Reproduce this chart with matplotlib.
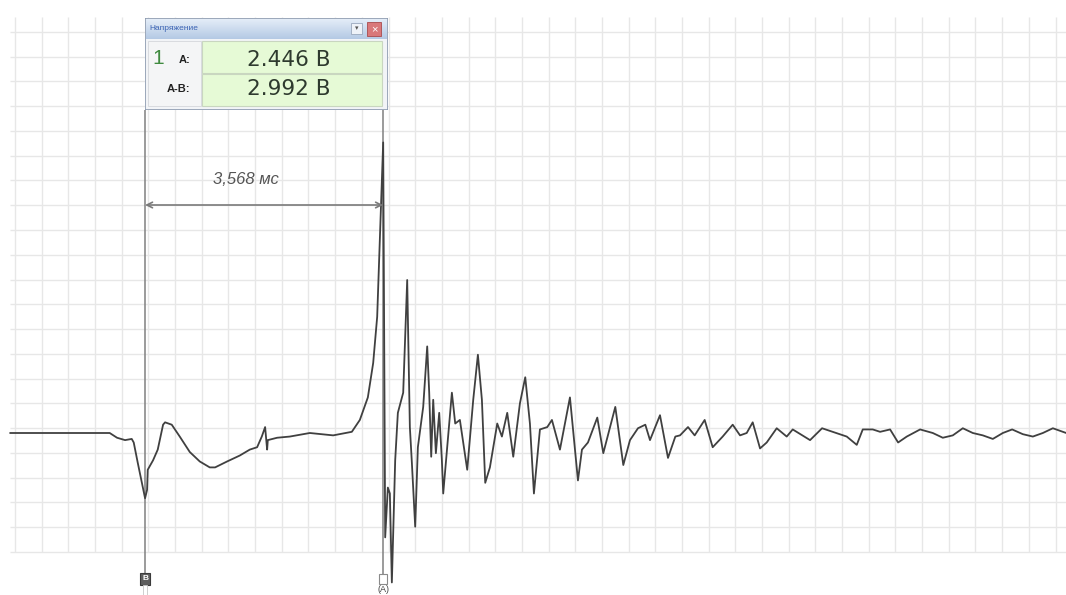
import numpy as np
import matplotlib
matplotlib.use("Agg")
import matplotlib.pyplot as plt
from matplotlib.patches import Rectangle
from matplotlib.colors import LinearSegmentedColormap

plt.rcParams['font.family'] = ['Liberation Sans', 'DejaVu Sans']

# Trace before the discharge (time in ms, voltage in V)
t_pre = [-0.07, 1.42, 1.53, 1.65, 1.75, 1.78, 1.84, 1.95, 1.98, 1.99, 2.07, 2.14,
         2.22, 2.25, 2.35, 2.47, 2.62, 2.77, 2.92, 3.00, 3.18, 3.37, 3.52, 3.63,
         3.70, 3.75, 3.78, 3.79, 3.93, 4.12, 4.42, 4.77, 5.05, 5.17, 5.29, 5.37,
         5.43, 5.46, 5.49, 5.52]
v_pre = [0.00, 0.00, -0.04, -0.06, -0.05, -0.08, -0.25, -0.55, -0.48, -0.31, -0.23, -0.14,
         0.07, 0.09, 0.07, -0.03, -0.16, -0.24, -0.29, -0.29, -0.24, -0.19, -0.14, -0.12,
         -0.03, 0.05, -0.14, -0.06, -0.04, -0.03, 0.00, -0.02, 0.01, 0.11, 0.30, 0.59,
         0.98, 1.46, 1.96, 2.45]

# Ringing after the discharge
t_ring = [5.55, 5.59, 5.62, 5.65, 5.70, 5.74, 5.82, 5.88, 5.92, 5.95, 6.00, 6.04,
          6.12, 6.18, 6.21, 6.24, 6.27, 6.31, 6.36, 6.40, 6.42, 6.48, 6.55, 6.60,
          6.67, 6.78, 6.87, 6.94, 7.00, 7.05, 7.12, 7.23, 7.30, 7.38, 7.47, 7.57,
          7.65, 7.72, 7.78, 7.87, 7.98, 8.05, 8.17, 8.32, 8.44, 8.50, 8.59, 8.73,
          8.82, 9.00, 9.12, 9.22, 9.34, 9.45, 9.52, 9.67, 9.79, 9.90, 9.97, 10.09,
          10.19, 10.34, 10.46, 10.61, 10.76, 10.87, 10.97, 11.06, 11.17, 11.27, 11.42, 11.57,
          11.66, 11.92, 12.10, 12.26, 12.47, 12.62, 12.71, 12.86, 12.97, 13.12, 13.24, 13.37,
          13.57, 13.76, 13.91, 14.06, 14.21, 14.36, 14.51, 14.66, 14.81, 14.95, 15.11, 15.26,
          15.41, 15.56, 15.76]
v_ring = [-0.88, -0.46, -0.51, -1.26, -0.23, 0.17, 0.34, 1.29, 0.05, -0.25, -0.79, -0.12,
          0.22, 0.73, 0.34, -0.20, 0.28, -0.17, 0.17, -0.23, -0.51, -0.12, 0.34, 0.08,
          0.11, -0.31, 0.28, 0.66, 0.28, -0.42, -0.29, 0.08, -0.03, 0.17, -0.20, 0.25,
          0.47, 0.08, -0.51, 0.03, 0.05, 0.11, -0.14, 0.30, -0.40, -0.14, -0.08, 0.13,
          -0.17, 0.22, -0.27, -0.06, 0.04, 0.07, -0.06, 0.15, -0.21, -0.03, -0.02, 0.05,
          -0.02, 0.11, -0.12, -0.03, 0.07, -0.02, 0.00, 0.09, -0.13, -0.08, 0.04, -0.03,
          0.03, -0.06, 0.04, 0.01, -0.03, -0.10, 0.03, 0.03, 0.01, 0.03, -0.08, -0.03,
          0.03, 0.00, -0.04, -0.02, 0.04, 0.00, -0.02, -0.05, 0.00, 0.03, -0.01, -0.03,
          0.00, 0.04, 0.00]

# Cursor readings
cursor_b = 1.95      # ms
delta_ab = 3.568     # ms
volt_a = 2.446       # V
volt_ab = 2.992      # V
panel_title = "Напряжение"

# screen scale of the scope window
W, H = 1066, 595
PX_MS = 66.7
PX_V = 118.6
X0, Y0 = 15, 433


def px_t(x):
    return (x - X0) / PX_MS


def px_v(y):
    return (Y0 - y) / PX_V


fig = plt.figure(figsize=(W / 100, H / 100), dpi=100)
fig.patch.set_facecolor("white")
ax = fig.add_axes([0, 0, 1, 1])
ax.set_xlim(px_t(0), px_t(W))
ax.set_ylim(px_v(H), px_v(0))
ax.axis("off")

# grid
grid_col = "#e7e7e7"
ax.vlines(np.arange(0, 15.7, 0.4), px_v(552), px_v(17), color=grid_col, lw=1.0, zorder=1)
ax.hlines([px_v(32 + 24.75 * k) for k in range(22)], px_t(10), px_t(W),
          color=grid_col, lw=1.0, zorder=1)

# cursors
t_a = cursor_b + delta_ab
ax.vlines(cursor_b, px_v(575), px_v(110), color="#808080", lw=1.1, zorder=2)
ax.vlines(t_a, px_v(575), px_v(110), color="#808080", lw=1.1, zorder=2)
ax.text(cursor_b, px_v(579), "B", fontsize=6, color="white", ha="center", va="center",
        fontweight="bold",
        bbox=dict(boxstyle="square,pad=0.25", fc="#5e5e5e", ec="#3a3a3a", lw=0.8), zorder=5)
ax.text(cursor_b, px_v(590), " ", fontsize=5, ha="center", va="center",
        bbox=dict(boxstyle="square,pad=0.2", fc="white", ec="#c8c8c8", lw=0.6), zorder=5)
ax.text(t_a, px_v(579), "  ", fontsize=5, ha="center", va="center",
        bbox=dict(boxstyle="square,pad=0.25", fc="white", ec="#8a8a8a", lw=0.8), zorder=5)
ax.text(t_a, px_v(590), "(A)", fontsize=6.5, color="#444444", ha="center", va="center", zorder=5)

# waveform
ax.plot(t_pre + t_ring, v_pre + v_ring, color="#404040", lw=1.3,
        solid_joinstyle="round", zorder=3)

# time measurement
y_arr = px_v(205)
ax.annotate("", xy=(cursor_b, y_arr), xytext=(t_a, y_arr),
            arrowprops=dict(arrowstyle="<->", color="#7a7a7a", lw=1.2,
                            shrinkA=0, shrinkB=0, mutation_scale=10), zorder=4)
ax.text(px_t(246), px_v(180), f"{delta_ab:.3f} мс".replace(".", ","), fontsize=12,
        style="italic", color="#555555", ha="center", va="center", zorder=4)

# readout panel
bx = fig.add_axes([145 / W, 1 - 110 / H, 243 / W, 92 / H])
bx.set_xlim(0, 243)
bx.set_ylim(92, 0)
bx.axis("off")
bx.add_patch(Rectangle((0, 0), 243, 92, fc="#f2f4f7", ec="#8c9bb0", lw=1.2))
grad = np.linspace(0, 1, 50).reshape(-1, 1)
bx.imshow(grad, extent=(1, 242, 21, 1),
          cmap=LinearSegmentedColormap.from_list("tb", ["#e4edf8", "#b4c9e4"]),
          aspect="auto", zorder=1)
bx.text(4, 11, panel_title, fontsize=6, color="#3c64b4", va="center", zorder=3)
bx.add_patch(Rectangle((206, 5), 11, 11, fc="#eef2f8", ec="#9aa8bd", lw=0.6, zorder=3))
bx.text(211.5, 10.5, "▾", fontsize=5, color="#555555", ha="center", va="center", zorder=4)
bx.add_patch(Rectangle((222, 4), 14, 14, fc="#d9787a", ec="#a94a4c", lw=0.6, zorder=3))
bx.text(229, 11, "×", fontsize=8, color="white", ha="center", va="center", zorder=4)

bx.add_patch(Rectangle((57, 23), 180, 32, fc="#e6fad6", ec="#c9d6c0", lw=0.8, zorder=2))
bx.add_patch(Rectangle((57, 56), 180, 32, fc="#e6fad6", ec="#c9d6c0", lw=0.8, zorder=2))
bx.add_patch(Rectangle((3, 23), 53, 65, fc="#f4f5f6", ec="#d4d7db", lw=0.6, zorder=2))

bx.text(13, 40, "1", fontsize=15, color="#3f8a3f", ha="center", va="center", zorder=4)
bx.text(40, 42, "A:", fontsize=8, fontweight="bold", color="#222222", ha="center", va="center", zorder=4)
bx.text(33, 71, "A-B:", fontsize=8, fontweight="bold", color="#222222", ha="center", va="center", zorder=4)
bx.text(144, 42, f"{volt_a:.3f} В", fontsize=15.5, family="DejaVu Sans", color="#2e3a2e",
        ha="center", va="center", zorder=4)
bx.text(144, 71, f"{volt_ab:.3f} В", fontsize=15.5, family="DejaVu Sans", color="#2e3a2e",
        ha="center", va="center", zorder=4)

fig.savefig("out.png", dpi=100, facecolor="white")
